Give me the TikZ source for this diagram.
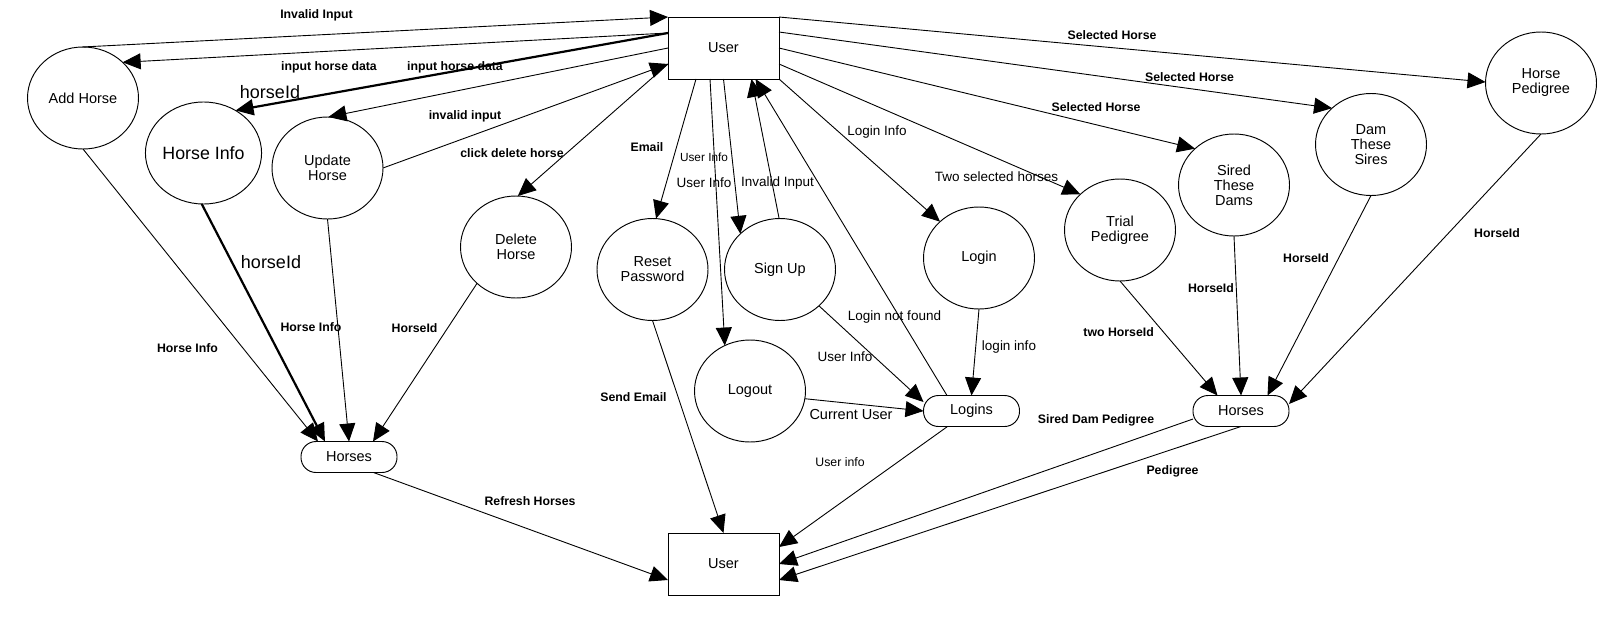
\documentclass[tikz,border=0pt]{standalone}
\usepackage{fontspec}
\setmainfont{Liberation Sans}
\usetikzlibrary{arrows.meta,shapes.geometric}

\begin{document}
\begin{tikzpicture}[x=1pt,y=-1pt,>={Triangle[length=18pt,width=16pt]},
    proc/.style={ellipse,draw,line width=0.95pt,minimum width=111pt,minimum height=102pt,
      inner sep=0pt,outer sep=0pt,align=center,font=\fontsize{14.5}{15}\selectfont},
    ent/.style={rectangle,draw,line width=0.95pt,minimum width=111pt,minimum height=62pt,
      outer sep=0pt,font=\fontsize{14.5}{15}\selectfont},
    store/.style={rectangle,draw,rounded corners=15pt,line width=0.95pt,minimum width=96pt,
      minimum height=31pt,inner sep=0pt,outer sep=0pt,font=\fontsize{14.5}{15}\selectfont},
    flow/.style={->,line width=0.9pt},
    lbl/.style={font=\bfseries\fontsize{12.3}{14}\selectfont,inner sep=0pt},
    lblr/.style={font=\fontsize{13.5}{15}\selectfont,inner sep=0pt},
    big/.style={font=\fontsize{18}{20}\selectfont,inner sep=0pt}]
  \useasboundingbox (0,0) rectangle (1619,629);

  % processes
  \node[proc] (addh) at (83,98) {Add Horse};
  \node[proc,font=\fontsize{17.8}{19}\selectfont] (hinfo) at (203.5,153) {Horse Info};
  \node[proc] (updh) at (327.5,168) {Update\\Horse};
  \node[proc] (delh) at (516,247) {Delete\\Horse};
  \node[proc] (reset) at (652.5,269.5) {Reset\\Password};
  \node[proc] (signup) at (780,269.5) {Sign Up};
  \node[proc] (logout) at (750,391) {Logout};
  \node[proc] (login) at (979,258) {Login};
  \node[proc] (trial) at (1120,230) {Trial\\Pedigree};
  \node[proc] (sired) at (1234,185) {Sired\\These\\Dams};
  \node[proc] (dam) at (1371,144.5) {Dam\\These\\Sires};
  \node[proc] (hped) at (1541,83) {Horse\\Pedigree};

  % users and stores
  \node[ent] (usertop) at (723.5,48) {User};
  \node[ent] (userbot) at (723.5,564) {User};
  \node[store] (horsesL) at (349,457) {Horses};
  \node[store] (logins) at (971.5,411) {Logins};
  \node[store] (horsesR) at (1241,411) {Horses};

  % flows on the left
  \draw[flow] (addh.91) -- (usertop.north west);
  \draw[flow] ([yshift=-16pt]usertop.north west) -- (addh.42);
  \draw[flow,line width=2.2pt] ([yshift=-16pt]usertop.north west) -- (hinfo.53);
  \draw[flow] (usertop.west) -- (updh.89);
  \draw[flow] (updh.east) -- ([yshift=15pt]usertop.south west);
  \draw[flow] ([yshift=15pt]usertop.south west) -- (delh.88);

  % flows below the top user
  \draw[flow] ([xshift=28pt]usertop.south west) -- (reset.86);
  \draw[flow] ([xshift=42pt]usertop.south west) -- (logout.119);
  \draw[flow] (usertop.south) -- (signup.138);
  \draw[flow] (signup.91) -- ([xshift=28pt]usertop.south);
  \draw[flow] ([xshift=-24.5pt]logins.north) -- ([xshift=32pt]usertop.south);

  % flows on the right
  \draw[flow] (usertop.south east) -- (login.137);
  \draw[flow] ([yshift=15pt]usertop.south east) -- (trial.138);
  \draw[flow] (usertop.east) -- (sired.137);
  \draw[flow] ([yshift=-15pt]usertop.north east) -- (dam.137);
  \draw[flow] (usertop.north east) -- (hped.179);

  % into the stores
  \draw[flow] (addh.south) -- ([xshift=-31pt]horsesL.north);
  \draw[flow,line width=2.2pt] (hinfo.268) -- ([xshift=-24pt]horsesL.north);
  \draw[flow] (updh.south) -- (horsesL.north);
  \draw[flow] (delh.223) -- ([xshift=24pt]horsesL.north);
  \draw[flow] (logout.352) -- (logins.west);
  \draw[flow] (signup.317) -- ([yshift=9pt]logins.west);
  \draw[flow] (login.south) -- (logins.north);
  \draw[flow] (trial.south) -- ([xshift=-23.5pt]horsesR.north);
  \draw[flow] (sired.south) -- (horsesR.north);
  \draw[flow] (dam.south) -- ([xshift=26.5pt]horsesR.north);
  \draw[flow] (hped.south) -- ([yshift=7pt]horsesR.east);

  % back to the bottom user
  \draw[flow] ([xshift=24.5pt]horsesL.south) -- ([yshift=-16pt]userbot.west);
  \draw[flow] (reset.south) -- (userbot.north);
  \draw[flow] ([xshift=-24pt]logins.south) -- ([yshift=17pt]userbot.east);
  \draw[flow] ([yshift=-8pt]horsesR.west) -- (userbot.east);
  \draw[flow] (horsesR.south) -- ([yshift=-16pt]userbot.east);

  % labels
  \node[lbl] (t1) at (316.5,15.5) {Invalid Input};
  \node[lbl] (t2) at (329,67.5) {input horse data};
  \node[lbl] (t3) at (455,67.5) {input horse data};
  \node[big] (t4) at (270,92) {horseId};
  \node[lbl] (t5) at (465,116) {invalid input};
  \node[lbl] (t6) at (512,153) {click delete horse};
  \node[lbl] (t7) at (647,147) {Email};
  \node[lblr,font=\fontsize{11.8}{13}\selectfont] (t8) at (704,157) {User Info};
  \node[lblr] (t9) at (704,183) {User Info};
  \node[lblr] (t10) at (777.5,183) {Invalid Input};
  \node[lblr] (t11) at (877,132) {Login Info};
  \node[lblr] (t12) at (996.5,177) {Two selected horses};
  \node[lbl] (t13) at (1112,35) {Selected Horse};
  \node[lbl] (t14) at (1189.5,77) {Selected Horse};
  \node[lbl] (t15) at (1096,107) {Selected Horse};
  \node[lbl] (t16) at (187.5,348) {Horse Info};
  \node[big] (t17) at (271,262) {horseId};
  \node[lbl] (t18) at (311,327) {Horse Info};
  \node[lbl] (t19) at (414.6,328) {HorseId};
  \node[lbl] (t20) at (633.5,397) {Send Email};
  \node[lblr] (t21) at (894.5,317) {Login not found};
  \node[lblr] (t22) at (845,357) {User Info};
  \node[lblr] (t23) at (1009,347) {login info};
  \node[lblr,font=\fontsize{14.5}{16}\selectfont] (t24) at (851,415) {Current User};
  \node[lblr,font=\fontsize{12.3}{14}\selectfont] (t25) at (840,462) {User info};
  \node[lbl] (t26) at (530,501) {Refresh Horses};
  \node[lbl] (t27) at (1096,420) {Sired Dam Pedigree};
  \node[lbl] (t28) at (1172.5,471) {Pedigree};
  \node[lbl] (t29) at (1118.6,332) {two HorseId};
  \node[lbl] (t30) at (1211,288) {HorseId};
  \node[lbl] (t31) at (1306,258) {HorseId};
  \node[lbl] (t32) at (1497,233) {HorseId};
\end{tikzpicture}
\end{document}
